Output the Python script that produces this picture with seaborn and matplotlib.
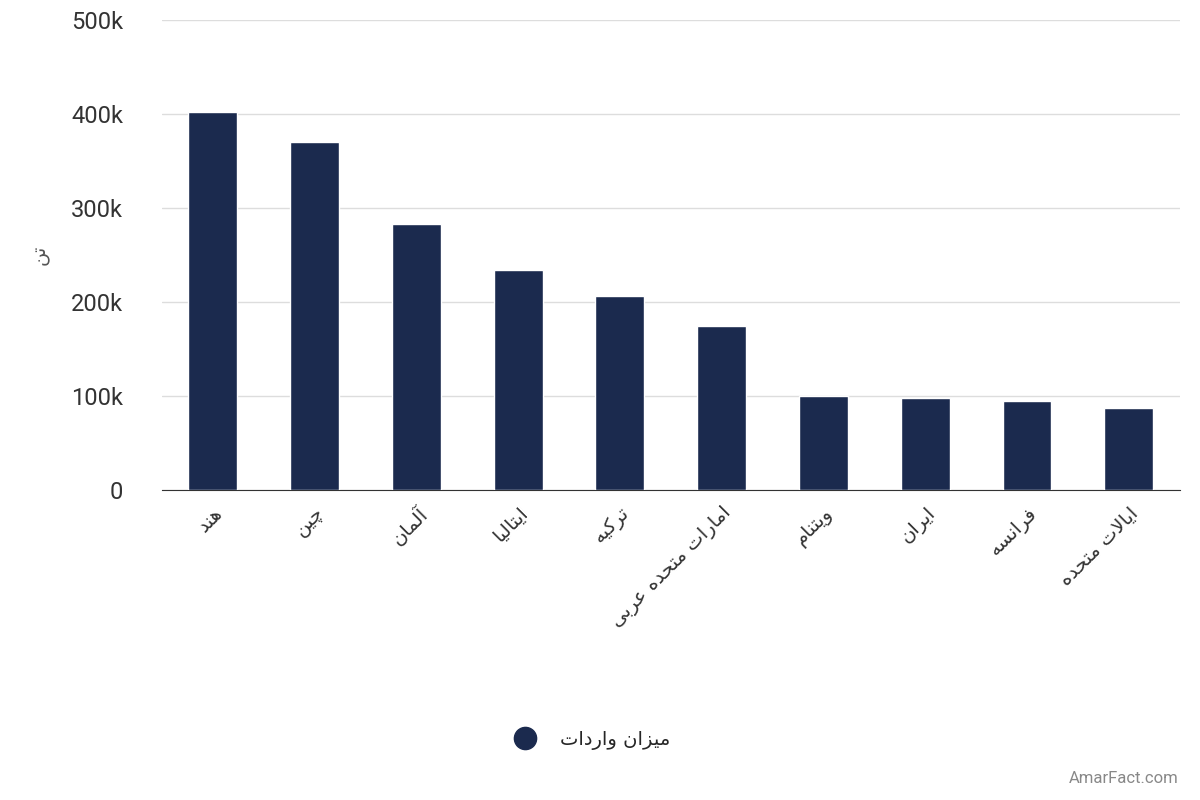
import matplotlib
matplotlib.use("Agg")
import matplotlib.pyplot as plt
import seaborn as sns
import pandas as pd

countries = ["هند", "چین", "آلمان", "ایتالیا", "ترکیه", "امارات متحده عربی",
             "ویتنام", "ایران", "فرانسه", "ایالات متحده"]
imports = [402000, 370000, 283000, 234000, 206000, 174000, 100000, 98000, 94000, 87000]
y_ticks = [0, 100000, 200000, 300000, 400000, 500000]
y_tick_labels = ["0", "100k", "200k", "300k", "400k", "500k"]
legend_label = "میزان واردات"
y_title = "تن"

# minimal Persian shaping (isolated, final, initial, medial)
FORMS = {
    "ا": (0xFE8D, 0xFE8E, None, None), "آ": (0xFE81, 0xFE82, None, None),
    "ب": (0xFE8F, 0xFE90, 0xFE91, 0xFE92), "ت": (0xFE95, 0xFE96, 0xFE97, 0xFE98),
    "ح": (0xFEA1, 0xFEA2, 0xFEA3, 0xFEA4),
    "د": (0xFEA9, 0xFEAA, None, None), "ر": (0xFEAD, 0xFEAE, None, None),
    "ز": (0xFEAF, 0xFEB0, None, None), "س": (0xFEB1, 0xFEB2, 0xFEB3, 0xFEB4),
    "ع": (0xFEC9, 0xFECA, 0xFECB, 0xFECC), "ف": (0xFED1, 0xFED2, 0xFED3, 0xFED4),
    "ک": (0xFB8E, 0xFB8F, 0xFB90, 0xFB91), "ل": (0xFEDD, 0xFEDE, 0xFEDF, 0xFEE0),
    "م": (0xFEE1, 0xFEE2, 0xFEE3, 0xFEE4), "ن": (0xFEE5, 0xFEE6, 0xFEE7, 0xFEE8),
    "ه": (0xFEE9, 0xFEEA, 0xFEEB, 0xFEEC), "و": (0xFEED, 0xFEEE, None, None),
    "ی": (0xFBFC, 0xFBFD, 0xFBFE, 0xFBFF), "چ": (0xFB7A, 0xFB7B, 0xFB7C, 0xFB7D),
    "\ufefb": (0xFEFB, 0xFEFC, None, None),
}


def shape(text):
    text = text.replace("لا", "\ufefb")
    out = []
    for i, c in enumerate(text):
        if c not in FORMS:
            out.append(c)
            continue
        prev = text[i - 1] if i > 0 else " "
        nxt = text[i + 1] if i + 1 < len(text) else " "
        joins_prev = prev in FORMS and FORMS[prev][2] is not None
        joins_next = nxt in FORMS and FORMS[c][2] is not None
        iso, fin, ini, med = FORMS[c]
        if joins_prev and joins_next:
            code = med
        elif joins_prev:
            code = fin
        elif joins_next:
            code = ini
        else:
            code = iso
        out.append(chr(code))
    return "".join(out)[::-1]


df = pd.DataFrame({"country": [shape(c) for c in countries], "value": imports})

sns.set_style("white")
plt.rcParams["font.family"] = ["Roboto", "DejaVu Sans"]

fig, ax = plt.subplots(figsize=(12, 8), dpi=100)
fig.subplots_adjust(left=0.135, right=0.983, top=0.975, bottom=0.388)
sns.barplot(data=df, x="country", y="value", color="#1b2a4e", width=0.48,
            saturation=1, ax=ax, zorder=3)

ax.set_ylim(0, 500000)
ax.set_yticks(y_ticks)
ax.set_yticklabels(y_tick_labels, fontsize=17, color="#333333")
ax.yaxis.grid(True, color="#dddddd", linewidth=1, zorder=0)
ax.tick_params(axis="y", length=0, pad=28)
ax.tick_params(axis="x", length=0, pad=10)
for s in ["top", "right", "left"]:
    ax.spines[s].set_visible(False)
ax.spines["bottom"].set_color("#333333")
ax.set_xlabel("")
ax.set_ylabel(shape(y_title), fontsize=14, color="#555555", family=["DejaVu Sans"])
ax.yaxis.set_label_coords(-0.11, 0.5)
for lab in ax.get_xticklabels():
    lab.set_rotation(45)
    lab.set_ha("right")
    lab.set_rotation_mode("anchor")
    lab.set_fontsize(14)
    lab.set_family(["DejaVu Sans"])
    lab.set_color("#333333")

fig.legend([plt.Line2D([], [], marker="o", ls="", color="#1b2a4e", markersize=16)],
           [shape(legend_label)], loc="center", bbox_to_anchor=(0.49, 0.075),
           frameon=False, prop={"family": ["DejaVu Sans"], "size": 14})
fig.text(0.982, 0.018, "AmarFact.com", ha="right", va="bottom", fontsize=12, color="#888888")

fig.savefig("out.png", dpi=100)
